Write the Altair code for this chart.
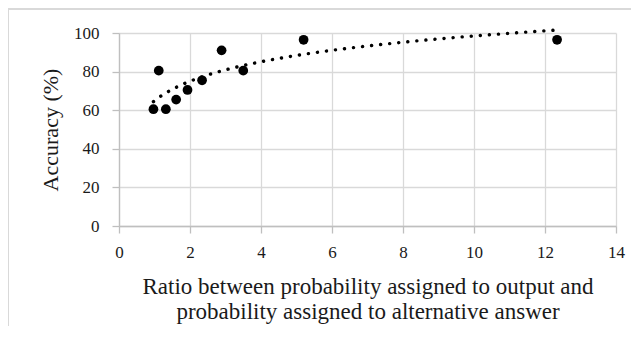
import altair as alt
import pandas as pd

# ---- data ----
ratio = [0.97, 1.12, 1.32, 1.61, 1.93, 2.34, 2.89, 3.50, 5.20, 12.34]
accuracy = [60.5, 80.5, 60.5, 65.5, 70.5, 75.5, 91, 80.5, 96.5, 96.5]
x_ticks = [0, 2, 4, 6, 8, 10, 12, 14]
y_ticks = [0, 20, 40, 60, 80, 100]
x_title = ["Ratio between probability assigned to output and",
           "probability assigned to alternative answer"]
y_title = "Accuracy (%)"

df = pd.DataFrame({"ratio": ratio, "accuracy": accuracy})

W, H = 497, 193
FONT = "Liberation Serif"
TXT = "#1a1a1a"
GRID = "#d9d9d9"
AXC = "#bfbfbf"

x_enc = alt.X(
    "ratio:Q",
    scale=alt.Scale(domain=[0, 14], nice=False, zero=False),
    axis=alt.Axis(
        values=x_ticks, title=x_title, labelPadding=11, titleFontSize=23,
        titleX=W / 2, titleY=49, titleAlign="center", titleBaseline="top",
        titleLineHeight=25,
    ),
)
y_enc = alt.Y(
    "accuracy:Q",
    scale=alt.Scale(domain=[0, 100], nice=False),
    axis=alt.Axis(
        values=y_ticks, title=y_title, labelPadding=13, titleFontSize=22,
        titleAngle=270, titleX=-69, titleY=H / 2, titleAlign="center",
        titleBaseline="middle",
    ),
)

base = alt.Chart(df)

trend = base.transform_regression("ratio", "accuracy", method="log").mark_line(
    color="black", strokeWidth=3.4, strokeDash=[0.1, 9], strokeCap="round"
).encode(x=x_enc, y=y_enc)

points = base.mark_circle(size=95, color="black", opacity=1).encode(x=x_enc, y=y_enc)

frame_src = alt.Chart(pd.DataFrame({"d": [0]}))
border_left = frame_src.mark_rule(color=GRID, strokeWidth=2).encode(
    x=alt.value(-111), y=alt.value(-24), y2=alt.value(H + 100)
)
border_top = frame_src.mark_rule(color=GRID, strokeWidth=2).encode(
    x=alt.value(-111), x2=alt.value(W + 15), y=alt.value(-24)
)

chart = alt.layer(points, trend, border_left, border_top).properties(
    width=W, height=H,
    autosize=alt.AutoSizeParams(type="none"),
    padding={"left": 111, "top": 25, "right": 15, "bottom": 100},
    background="white",
).configure(
    font=FONT
).configure_axis(
    grid=True, gridColor=GRID, gridWidth=1.3,
    domainColor=AXC, domainWidth=1.3, tickColor=AXC, tickWidth=1.3, tickSize=7,
    labelFont=FONT, labelFontSize=17, labelColor=TXT,
    labelFlush=False, labelOverlap=False,
    titleFont=FONT, titleFontWeight="normal", titleColor=TXT,
).configure_view(stroke=None)

chart.save("out.html", embed_options={"renderer": "svg", "actions": False})
